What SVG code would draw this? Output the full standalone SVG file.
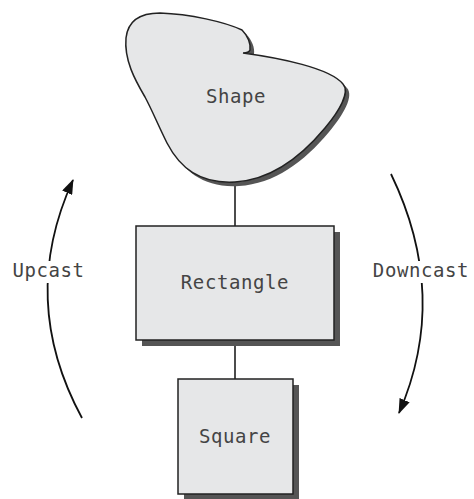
<svg xmlns="http://www.w3.org/2000/svg" width="474" height="499" viewBox="0 0 474 499">
<defs>
<style>
.lbl{font-family:"DejaVu Sans Mono","Liberation Mono",monospace;font-size:19px;letter-spacing:0.6px;fill:#444;text-anchor:middle}
.box{fill:#e6e7e8;stroke:#222;stroke-width:1.5}
.shadow{fill:#555}
.conn{stroke:#111;stroke-width:1.5;fill:none}
.arc{stroke:#111;stroke-width:1.8;fill:none}
</style>
<marker id="ah" markerUnits="userSpaceOnUse" markerWidth="15" markerHeight="11" refX="14" refY="5.5" orient="auto">
<path d="M0,0 L15,5.5 L0,11 Z" fill="#111"/>
</marker>
<path id="blob" d="M235,182 C200,184 180,168 167,143 C158,125 152,110 145,97 C135,80 124,60 126,38 C128,20 140,13 160,13 C190,14 225,22 242,30 C248,36 251,44 250,50 Q249,53 243,53 C280,58 330,68 343,84 C350,92 340,110 325,128 C300,158 270,180 235,182 Z"/>
</defs>
<rect width="474" height="499" fill="#fff"/>
<g id="connectors">
<line class="conn" x1="235" y1="182" x2="235" y2="226"/>
<line class="conn" x1="235" y1="340" x2="235" y2="379"/>
<path class="arc" d="M82,418 Q18,300 73,180" marker-end="url(#ah)"/>
<path class="arc" d="M391,174 Q450,296 399,413" marker-end="url(#ah)"/>
</g>
<g id="shape">
<use href="#blob" class="shadow" transform="translate(4,4)"/>
<use href="#blob" class="box"/>
<text class="lbl" x="236" y="103">Shape</text>
</g>
<g id="rectangle">
<rect class="shadow" x="142" y="232" width="198" height="114"/>
<rect class="box" x="136" y="226" width="198" height="114"/>
<text class="lbl" x="235" y="289">Rectangle</text>
</g>
<g id="square">
<rect class="shadow" x="184" y="385" width="115" height="115"/>
<rect class="box" x="178" y="379" width="115" height="115"/>
<text class="lbl" x="235" y="443">Square</text>
</g>
<g id="upcast">
<rect x="10" y="261" width="77" height="22" fill="#fff"/>
<text class="lbl" x="48.5" y="277">Upcast</text>
</g>
<g id="downcast">
<rect x="370" y="261" width="102" height="22" fill="#fff"/>
<text class="lbl" x="421" y="277">Downcast</text>
</g>
</svg>
